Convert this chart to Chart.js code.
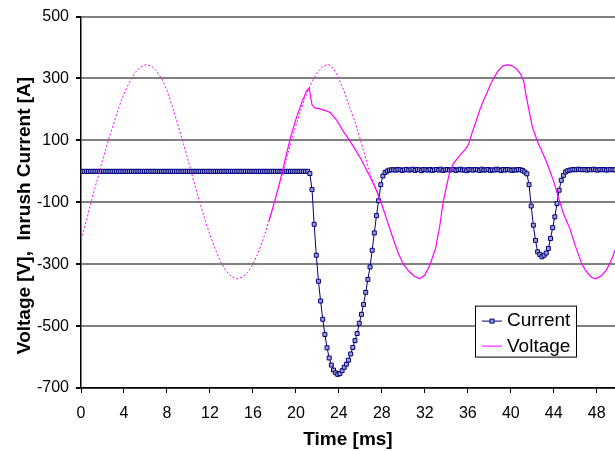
<!DOCTYPE html>
<html>
<head>
<meta charset="utf-8">
<script src="https://cdn.jsdelivr.net/npm/chart.js@4.4.1/dist/chart.umd.min.js"></script>
<style>
  html, body { margin: 0; padding: 0; background: #fff; }
  canvas { display: block; }
</style>
</head>
<body>
<canvas id="inrushChart" width="615" height="451"></canvas>
<script>
// tick labels
const xTicks = [0, 4, 8, 12, 16, 20, 24, 28, 32, 36, 40, 44, 48];
const yTicks = [-700, -500, -300, -100, 100, 300, 500];

// current samples, one every 0.2 ms starting at 0.1 ms
const currentStart = 0.1;
const currentStep = 0.2;
const currentValues = [
  0, 0, 0, 0, 0, 0, 0, 0, 0, 0,
  0, 0, 0, 0, 0, 0, 0, 0, 0, 0,
  0, 0, 0, 0, 0, 0, 0, 0, 0, 0,
  0, 0, 0, 0, 0, 0, 0, 0, 0, 0,
  0, 0, 0, 0, 0, 0, 0, 0, 0, 0,
  0, 0, 0, 0, 0, 0, 0, 0, 0, 0,
  0, 0, 0, 0, 0, 0, 0, 0, 0, 0,
  0, 0, 0, 0, 0, 0, 0, 0, 0, 0,
  0, 0, 0, 0, 0, 0, 0, 0, 0, 0,
  0, 0, 0, 0, 0, 0, 0, 0, 0, 0,
  0, 0, 0, 0, 0, 0,
  -7, -59, -171, -271, -355, -419, -478, -527, -570, -603,
  -626, -642, -651, -656, -653, -644, -633, -623, -610, -590,
  -569, -547, -524, -491, -462, -430, -391, -349, -309, -255,
  -199, -143, -95, -43, -15, -4,
  1,
  4, 5, 5, 4, 6, 5, 3, 5, 6, 4,
  5, 7, 3, 6, 5, 2, 6, 5, 4, 6,
  3, 5, 6, 4, 7, 3, 5, 6, 4, 5,
  6, 3, 5, 7, 4, 5, 2, 6, 5, 4,
  6, 5, 3, 7, 4, 5, 6, 3, 5, 4,
  7, 5, 3, 6, 4, 6, 5, 3, 5, 4,
  6, 5, 3,
  -2, -8, -43, -112, -174, -223, -260, -269, -276, -271,
  -264, -249, -217, -182, -147, -104, -61, -29, -13, -2,
  2, 4, 5, 6, 5, 7, 6, 5, 6, 4,
  6, 5, 7, 5, 4, 6, 5, 6, 4, 5,
  6, 5, 5, 4
];

// measured voltage (solid)
const volTime = [
  17.5, 18.0, 18.5, 19.0, 19.5, 20.0, 20.5, 21.0, 21.25, 21.35,
  21.5, 21.75, 22.2, 22.7, 23.2, 23.8, 24.4, 25.0, 25.5, 26.0,
  26.5, 27.0, 27.5, 28.0, 28.5, 29.0, 29.5, 30.0, 30.5, 31.0,
  31.5, 32.0, 32.5, 33.0, 33.4, 33.7, 34.0, 34.3, 34.65, 35.0,
  35.4, 35.8, 36.1, 36.4, 36.8, 37.1, 37.5, 37.8, 38.1, 38.4,
  38.7, 39.0, 39.3, 39.7, 40.1, 40.5, 40.9, 41.2, 41.4, 41.65,
  42.0, 42.5, 43.0, 43.5, 44.0, 44.5, 44.9, 45.5, 46.0, 46.6,
  47.0, 47.5, 47.9, 48.4, 48.9, 49.2, 49.5, 49.8
];
const volValue = [
  -160, -100, -35, 38, 110, 168, 218, 260, 270, 245,
  215, 205, 202, 197, 190, 165, 130, 100, 72, 43,
  10, -25, -62, -108, -160, -212, -262, -300, -322, -338,
  -347, -335, -300, -248, -175, -100, -51, -5, 25, 40,
  57, 72, 90, 125, 165, 197, 232, 255, 280, 300,
  318, 332, 341, 345, 341, 332, 315, 292, 250, 205,
  145, 95, 57, 15, -33, -92, -136, -185, -240, -298,
  -322, -342, -347, -338, -319, -298, -275, -245
];

// undisturbed supply voltage (dotted)
const refTime = [
  0, 0.5, 1, 1.5, 2, 2.5, 3, 3.5, 4, 4.5,
  5, 5.5, 6, 6.5, 7, 7.5, 8, 8.5, 9, 9.5,
  10, 10.5, 11, 11.5, 12, 12.5, 13, 13.5, 14, 14.5,
  15, 15.5, 16, 16.5, 17, 17.5, 18, 18.5, 19, 19.5,
  20, 20.5, 21, 21.5, 22, 22.5, 23, 23.5, 24, 24.5,
  25, 25.5, 26, 26.5, 27, 27.5, 27.8
];
const refValue = [
  -220, -160, -90, -28, 35, 95, 150, 205, 250, 288,
  318, 336, 345, 341, 326, 300, 262, 210, 152, 93,
  32, -32, -94, -152, -205, -252, -292, -322, -340, -347,
  -342, -327, -300, -262, -215, -160, -100, -38, 25, 88,
  148, 203, 250, 290, 320, 339, 346, 332, 300, 258,
  207, 160, 103, 42, -17, -58, -88
];

const currentPoints = currentValues.map((v, i) => ({ x: currentStart + i * currentStep, y: v }));
const volPoints = volTime.map((t, i) => ({ x: t, y: volValue[i] }));
const refPoints = refTime.map((t, i) => ({ x: t, y: refValue[i] }));

Chart.defaults.font.family = '"Liberation Sans", Arial, sans-serif';
Chart.defaults.color = '#000';

// legend box sitting inside the plot, bottom right
const legendBox = {
  id: 'legendBox',
  afterDatasetsDraw(chart) {
    const ctx = chart.ctx;
    const a = chart.chartArea;
    const left = a.right - 140, top = a.top + 289, w = 101, h = 51;
    ctx.save();
    ctx.fillStyle = '#fff';
    ctx.fillRect(left, top, w, h);
    ctx.strokeStyle = '#000';
    ctx.lineWidth = 1;
    ctx.strokeRect(left + 0.5, top + 0.5, w, h);

    ctx.lineWidth = 1;
    ctx.strokeStyle = '#000080';
    ctx.beginPath();
    ctx.moveTo(left + 7, top + 15.5);
    ctx.lineTo(left + 27, top + 15.5);
    ctx.stroke();
    ctx.fillStyle = '#a0a0cc';
    ctx.fillRect(left + 15, top + 13.5, 4, 4);
    ctx.strokeRect(left + 15, top + 13.5, 4, 4);

    ctx.strokeStyle = '#ff00ff';
    ctx.beginPath();
    ctx.moveTo(left + 7, top + 40.5);
    ctx.lineTo(left + 27, top + 40.5);
    ctx.stroke();

    ctx.fillStyle = '#000';
    ctx.font = '19px "Liberation Sans", Arial, sans-serif';
    ctx.textBaseline = 'middle';
    ctx.textAlign = 'left';
    ctx.fillText('Current', left + 32, top + 15);
    ctx.fillText('Voltage', left + 32, top + 41);
    ctx.restore();
  }
};

new Chart(document.getElementById('inrushChart'), {
  type: 'line',
  data: {
    datasets: [
      {
        label: 'Voltage',
        data: volPoints,
        borderColor: '#ff00ff',
        borderWidth: 1.2,
        pointRadius: 0,
        tension: 0
      },
      {
        label: 'Voltage (undisturbed)',
        data: refPoints,
        borderColor: '#ff00ff',
        borderWidth: 1,
        borderDash: [2, 2],
        pointRadius: 0,
        tension: 0
      },
      {
        label: 'Current',
        data: currentPoints,
        borderColor: '#000080',
        borderWidth: 1,
        pointStyle: 'rect',
        pointRadius: 2.8,
        pointBorderWidth: 1,
        pointBorderColor: '#000080',
        pointBackgroundColor: '#a0a0cc',
        tension: 0
      }
    ]
  },
  options: {
    responsive: false,
    animation: false,
    layout: { autoPadding: false, padding: { top: 16, left: 0, right: 0, bottom: 0 } },
    plugins: {
      legend: { display: false },
      tooltip: { enabled: false }
    },
    scales: {
      x: {
        type: 'linear',
        min: 0,
        max: 49.7,
        afterBuildTicks: s => { s.ticks = xTicks.map(v => ({ value: v })); },
        afterFit: s => { s.height = 63; s.paddingLeft = 0; s.paddingRight = 0; },
        grid: { drawOnChartArea: false, tickLength: 5, tickColor: '#000' },
        border: { color: '#000', width: 1.5 },
        ticks: { font: { size: 16 }, color: '#000', padding: 11, maxRotation: 0, autoSkip: false },
        title: {
          display: true,
          text: 'Time [ms]',
          font: { size: 19, weight: 'bold' },
          padding: { top: 0, bottom: 0 }
        }
      },
      y: {
        type: 'linear',
        min: -700,
        max: 500,
        afterBuildTicks: s => { s.ticks = yTicks.map(v => ({ value: v })); },
        afterFit: s => { s.width = 81; },
        grid: { color: '#808080', lineWidth: 2, tickLength: 5, tickColor: '#000' },
        border: { color: '#000', width: 1.5 },
        ticks: { font: { size: 16 }, color: '#000', padding: 7 },
        title: {
          display: true,
          text: 'Voltage [V],  Inrush Current [A]     ',
          font: { size: 19, weight: 'bold' },
          padding: { top: 13, bottom: 0 }
        }
      }
    }
  },
  plugins: [legendBox]
});
</script>
</body>
</html>
